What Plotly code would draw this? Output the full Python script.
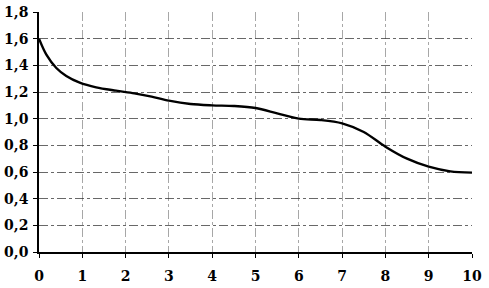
import plotly.graph_objects as go

x_vals = [0, 0.17, 0.4, 0.63, 0.94, 1.32, 1.78, 2.2, 2.6, 3, 3.5, 4, 4.5, 5, 5.5, 6, 6.5, 7, 7.5, 8, 8.5, 9, 9.5, 10]
y_vals = [1.60, 1.48, 1.38, 1.32, 1.27, 1.235, 1.21, 1.19, 1.165, 1.135, 1.11, 1.10, 1.095, 1.08, 1.04, 1.00, 0.99, 0.965, 0.90, 0.79, 0.70, 0.64, 0.605, 0.595]
x_ticks = list(range(0, 11))
y_ticks = [0.0, 0.2, 0.4, 0.6, 0.8, 1.0, 1.2, 1.4, 1.6, 1.8]

fig = go.Figure()
fig.add_trace(go.Scatter(x=x_vals, y=y_vals, mode="lines",
                         line=dict(color="black", width=2.4, shape="spline", smoothing=0.9),
                         showlegend=False))

font = dict(family="DejaVu Serif", size=14, color="black", weight="bold")
fig.update_layout(
    width=489, height=288,
    margin=dict(l=39, r=17, t=12, b=36),
    paper_bgcolor="white", plot_bgcolor="white",
    separators=",.",
    font=font,
)
fig.update_xaxes(range=[0, 10], tickvals=x_ticks, ticktext=[str(t) for t in x_ticks],
                 showgrid=True, gridcolor="rgba(60,60,60,0.45)", gridwidth=1, griddash="dashdot",
                 showline=True, linecolor="black", linewidth=1.5,
                 ticks="outside", ticklen=4, tickcolor="black", zeroline=False,
                 ticklabelstandoff=6, tickfont=font, automargin=False)
fig.update_yaxes(range=[0, 1.8], tickvals=y_ticks, tickformat=".1f",
                 showgrid=True, gridcolor="rgba(40,40,40,0.7)", gridwidth=1, griddash="dashdot",
                 showline=True, linecolor="black", linewidth=1.5,
                 ticks="outside", ticklen=4, tickcolor="black", zeroline=False,
                 ticklabelstandoff=2, tickfont=font, automargin=False)
fig.write_html("out.html")
